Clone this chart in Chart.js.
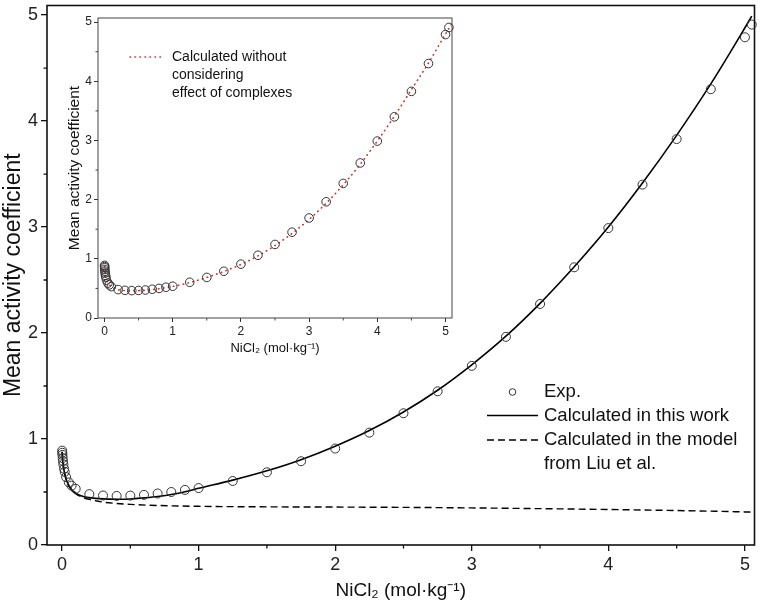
<!DOCTYPE html>
<html>
<head>
<meta charset="utf-8">
<script src="https://cdn.jsdelivr.net/npm/chart.js@4.4.1/dist/chart.umd.min.js"></script>
<style>
    html, body { margin: 0; padding: 0; background: #fff; }
    #wrap { position: relative; width: 760px; height: 608px; }
    #main { position: absolute; left: 0; top: 0; width: 760px; height: 608px; }
    #inset { position: absolute; left: 60px; top: 8px; width: 400px; height: 352px; }
</style>
</head>
<body>
<div id="wrap">
    <canvas id="main" width="760" height="608"></canvas>
    <canvas id="inset" width="400" height="352"></canvas>
</div>
<script>
const FONT = "'Liberation Sans', Arial, sans-serif";

// experimental mean activity coefficients of NiCl2
const expX = [0.001, 0.002, 0.003, 0.005, 0.007, 0.01, 0.015, 0.02, 0.03, 0.05, 0.07, 0.1,
    0.2, 0.3, 0.4, 0.5, 0.6, 0.7, 0.8, 0.9, 1.0, 1.25, 1.5, 1.75, 2.0, 2.25, 2.5, 2.75,
    3.0, 3.25, 3.5, 3.75, 4.0, 4.25, 4.5, 4.75, 5.0, 5.05];
const expY = [0.89, 0.87, 0.85, 0.82, 0.79, 0.76, 0.72, 0.69, 0.64, 0.59, 0.56, 0.53,
    0.48, 0.467, 0.463, 0.466, 0.473, 0.486, 0.50, 0.52, 0.537, 0.604, 0.686, 0.79, 0.91, 1.06, 1.243, 1.45,
    1.69, 1.964, 2.274, 2.62, 2.99, 3.40, 3.83, 4.30, 4.79, 4.91];

// calculated in this work
const calcX = [0.001, 0.003, 0.005, 0.01, 0.02, 0.03, 0.05, 0.07, 0.1, 0.15, 0.2, 0.3, 0.4, 0.5,
    0.6, 0.7, 0.8, 0.9, 1.0, 1.25, 1.5, 1.75, 2.0, 2.25, 2.5, 2.75, 3.0, 3.25, 3.5, 3.75,
    4.0, 4.25, 4.5, 4.75, 5.0, 5.05];
const calcY = [0.88, 0.83, 0.80, 0.74, 0.67, 0.62, 0.56, 0.52, 0.49, 0.46, 0.447, 0.435, 0.432, 0.434,
    0.445, 0.458, 0.476, 0.503, 0.535, 0.612, 0.70, 0.805, 0.932, 1.08, 1.255, 1.46, 1.70, 1.97, 2.28, 2.625,
    3.0, 3.415, 3.865, 4.35, 4.88, 4.99];

// model from Liu et al.
const liuX = [0.001, 0.005, 0.01, 0.02, 0.05, 0.1, 0.15, 0.2, 0.3, 0.4, 0.5, 0.7, 1.0, 1.5,
    2.0, 2.5, 3.0, 3.5, 4.0, 4.5, 5.0, 5.05];
const liuY = [0.88, 0.80, 0.74, 0.67, 0.56, 0.485, 0.45, 0.43, 0.405, 0.392, 0.383, 0.373, 0.365, 0.36,
    0.358, 0.355, 0.35, 0.343, 0.335, 0.325, 0.312, 0.31];

// inset: calculated without considering complexes
const noCplxX = [0.001, 0.005, 0.01, 0.02, 0.05, 0.1, 0.2, 0.3, 0.4, 0.5, 0.6, 0.7, 0.8, 0.9, 1.0,
    1.25, 1.5, 1.75, 2.0, 2.25, 2.5, 2.75, 3.0, 3.25, 3.5, 3.75, 4.0, 4.25, 4.5, 4.75, 5.0, 5.09];
const noCplxY = [0.87, 0.80, 0.76, 0.69, 0.60, 0.53, 0.478, 0.463, 0.46, 0.462, 0.469, 0.48, 0.494, 0.512, 0.533,
    0.60, 0.685, 0.787, 0.905, 1.05, 1.225, 1.43, 1.665, 1.94, 2.25, 2.6, 2.99, 3.41, 3.86, 4.31, 4.8, 4.97];

const xTicks = [0, 1, 2, 3, 4, 5];
const xMinor = [0.5, 1.5, 2.5, 3.5, 4.5];
const yTicks = [0, 1, 2, 3, 4, 5];
const yMinor = [0.5, 1.5, 2.5, 3.5, 4.5];

const pts = (xs, ys) => xs.map((x, i) => ({ x, y: ys[i] }));

// box round the plot area + short minor ticks
const frameAndMinor = {
    id: 'frameAndMinor',
    afterDraw(chart, args, opts) {
        const { ctx, chartArea: a, scales } = chart;
        ctx.save();
        ctx.strokeStyle = opts.color;
        ctx.lineWidth = opts.tickWidth;
        ctx.beginPath();
        xMinor.forEach(v => {
            const px = scales.x.getPixelForValue(v);
            ctx.moveTo(px, a.bottom);
            ctx.lineTo(px, a.bottom + opts.minorLen);
        });
        yMinor.forEach(v => {
            const py = scales.y.getPixelForValue(v);
            ctx.moveTo(a.left - opts.minorLen, py);
            ctx.lineTo(a.left, py);
        });
        ctx.stroke();
        ctx.lineWidth = opts.lineWidth;
        ctx.strokeRect(a.left, a.top, a.right - a.left, a.bottom - a.top);
        ctx.restore();
    }
};

// hand placed legend that reuses dataset styles
const boxLegend = {
    id: 'boxLegend',
    afterDraw(chart, args, opts) {
        const { ctx } = chart;
        ctx.save();
        ctx.font = `${opts.size}px ${FONT}`;
        ctx.textBaseline = 'middle';
        ctx.fillStyle = '#111';
        opts.rows.forEach(row => {
            const ds = chart.data.datasets[row.ds];
            if (ds.showLine) {
                ctx.strokeStyle = ds.borderColor;
                ctx.lineWidth = ds.borderWidth;
                ctx.lineCap = ds.borderCapStyle || 'butt';
                ctx.setLineDash(ds.borderDash || []);
                ctx.beginPath();
                ctx.moveTo(opts.x0, row.y);
                ctx.lineTo(opts.x1, row.y);
                ctx.stroke();
                ctx.setLineDash([]);
            } else {
                ctx.strokeStyle = ds.pointBorderColor;
                ctx.lineWidth = 1;
                ctx.beginPath();
                ctx.arc((opts.x0 + opts.x1) / 2, row.y, opts.markerRadius, 0, Math.PI * 2);
                ctx.stroke();
            }
            row.lines.forEach((t, i) => ctx.fillText(t, opts.textX, row.y + i * opts.lineGap));
        });
        ctx.restore();
    }
};

function axis(min, max, ticks, fitSize, horizontal, f) {
    return {
        type: 'linear',
        min: min,
        max: max,
        afterBuildTicks: s => { s.ticks = ticks.map(v => ({ value: v })); },
        afterFit: s => {
            if (horizontal) s.height = fitSize; else s.width = fitSize;
            // no extra room for half labels at the ends
            s.paddingTop = 0; s.paddingBottom = 0; s.paddingLeft = 0; s.paddingRight = 0;
        },
        grid: { display: true, drawOnChartArea: false, drawTicks: true, tickLength: f.tickLen, color: f.color, lineWidth: f.tickWidth },
        border: { display: false },
        ticks: {
            font: { family: FONT, size: f.tickSize },
            color: '#222',
            padding: f.tickPad,
            maxRotation: 0,
            autoSkip: false,
            callback: v => String(v)
        },
        title: {
            display: true,
            text: f.title,
            font: { family: FONT, size: f.titleSize },
            color: '#111',
            padding: f.titlePad
        }
    };
}

const mainChart = new Chart(document.getElementById('main'), {
    type: 'scatter',
    data: {
        datasets: [{
            label: 'Exp.',
            data: pts(expX, expY),
            showLine: false,
            pointStyle: 'circle',
            pointRadius: 4.5,
            pointBorderWidth: 1,
            pointBorderColor: '#333',
            pointBackgroundColor: 'rgba(0,0,0,0)',
            clip: false
        }, {
            label: 'Calculated in this work',
            data: pts(calcX, calcY),
            showLine: true,
            pointRadius: 0,
            borderColor: '#000',
            borderWidth: 1.6,
            cubicInterpolationMode: 'monotone'
        }, {
            label: 'Calculated in the model from Liu et al.',
            data: pts(liuX, liuY),
            showLine: true,
            pointRadius: 0,
            borderColor: '#000',
            borderWidth: 1.4,
            borderDash: [7, 4],
            cubicInterpolationMode: 'monotone'
        }]
    },
    options: {
        responsive: false,
        animation: false,
        events: [],
        layout: { padding: { top: 3, right: 3, left: 0, bottom: 0 } },
        scales: {
            x: axis(-0.11, 5.07, xTicks, 63, true, {
                tickLen: 6, tickWidth: 1.3, color: '#111', tickSize: 18, tickPad: 3,
                title: 'NiCl₂ (mol·kg⁻¹)', titleSize: 19, titlePad: { top: 0, bottom: 6 }
            }),
            y: axis(0, 5.09, yTicks, 47, false, {
                tickLen: 6, tickWidth: 1.3, color: '#111', tickSize: 18, tickPad: 3,
                title: 'Mean activity coefficient', titleSize: 23, titlePad: { top: 0, bottom: 0 }
            })
        },
        plugins: {
            legend: { display: false },
            tooltip: { enabled: false },
            frameAndMinor: { color: '#111', lineWidth: 1.6, tickWidth: 1.3, minorLen: 3.5 },
            boxLegend: {
                size: 18.5, x0: 487, x1: 538, textX: 544, markerRadius: 3.3, lineGap: 24,
                rows: [
                    { ds: 0, y: 392, lines: ['Exp.'] },
                    { ds: 1, y: 415.5, lines: ['Calculated in this work'] },
                    { ds: 2, y: 440, lines: ['Calculated in the model', 'from Liu et al.'] }
                ]
            }
        }
    },
    plugins: [frameAndMinor, boxLegend]
});

const insetChart = new Chart(document.getElementById('inset'), {
    type: 'scatter',
    data: {
        datasets: [{
            label: 'Exp.',
            data: pts(expX, expY),
            showLine: false,
            pointStyle: 'circle',
            pointRadius: 4.3,
            pointBorderWidth: 1,
            pointBorderColor: '#333',
            pointBackgroundColor: 'rgba(0,0,0,0)',
            clip: false
        }, {
            label: 'Calculated without considering effect of complexes',
            data: pts(noCplxX, noCplxY),
            showLine: true,
            pointRadius: 0,
            borderColor: '#d03030',
            borderWidth: 1.6,
            borderDash: [0.5, 4.5],
            borderCapStyle: 'round',
            cubicInterpolationMode: 'monotone'
        }]
    },
    options: {
        responsive: false,
        animation: false,
        events: [],
        layout: { padding: { top: 10, right: 8, left: 0, bottom: 0 } },
        scales: {
            x: axis(-0.095, 5.095, xTicks, 42, true, {
                tickLen: 4, tickWidth: 1, color: '#333', tickSize: 12, tickPad: 2,
                title: 'NiCl₂ (mol·kg⁻¹)', titleSize: 13, titlePad: { top: 0, bottom: 4 }
            }),
            y: axis(0, 5.07, yTicks, 38, false, {
                tickLen: 4, tickWidth: 1, color: '#333', tickSize: 12, tickPad: 2,
                title: 'Mean activity coefficient', titleSize: 15.5, titlePad: { top: 5.5, bottom: 0 }
            })
        },
        plugins: {
            legend: { display: false },
            tooltip: { enabled: false },
            frameAndMinor: { color: '#444', lineWidth: 1, tickWidth: 1, minorLen: 2.5 },
            boxLegend: {
                size: 14, x0: 70, x1: 103, textX: 112, markerRadius: 3, lineGap: 18,
                rows: [
                    { ds: 1, y: 49, lines: ['Calculated without', 'considering', 'effect of complexes'] }
                ]
            }
        }
    },
    plugins: [frameAndMinor, boxLegend]
});
</script>
</body>
</html>
